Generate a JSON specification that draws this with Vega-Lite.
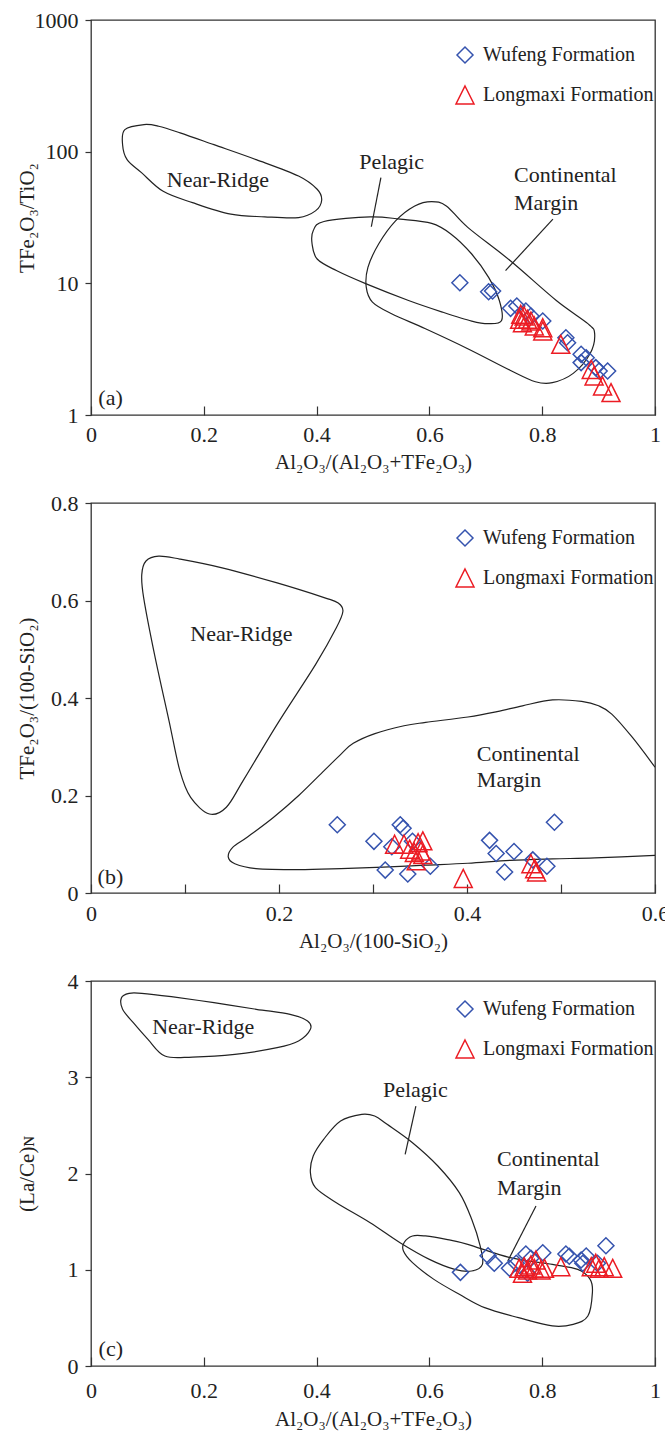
{
  "$schema": "https://vega.github.io/schema/vega-lite/v6.json",
  "background": "white",
  "padding": {"left": 15, "top": 8, "right": 5, "bottom": 5},
  "bounds": "flush",
  "spacing": 88,
  "datasets": {
    "pa": [
      {"x": 0.654, "y": 10.1, "group": "Wufeng Formation"},
      {"x": 0.705, "y": 8.64, "group": "Wufeng Formation"},
      {"x": 0.712, "y": 8.75, "group": "Wufeng Formation"},
      {"x": 0.744, "y": 6.46, "group": "Wufeng Formation"},
      {"x": 0.755, "y": 6.73, "group": "Wufeng Formation"},
      {"x": 0.771, "y": 6.17, "group": "Wufeng Formation"},
      {"x": 0.780, "y": 5.65, "group": "Wufeng Formation"},
      {"x": 0.801, "y": 5.17, "group": "Wufeng Formation"},
      {"x": 0.842, "y": 3.86, "group": "Wufeng Formation"},
      {"x": 0.845, "y": 3.54, "group": "Wufeng Formation"},
      {"x": 0.869, "y": 2.89, "group": "Wufeng Formation"},
      {"x": 0.878, "y": 2.72, "group": "Wufeng Formation"},
      {"x": 0.869, "y": 2.50, "group": "Wufeng Formation"},
      {"x": 0.895, "y": 2.29, "group": "Wufeng Formation"},
      {"x": 0.901, "y": 2.16, "group": "Wufeng Formation"},
      {"x": 0.916, "y": 2.16, "group": "Wufeng Formation"},
      {"x": 0.762, "y": 5.82, "group": "Longmaxi Formation"},
      {"x": 0.768, "y": 5.65, "group": "Longmaxi Formation"},
      {"x": 0.760, "y": 5.33, "group": "Longmaxi Formation"},
      {"x": 0.774, "y": 5.33, "group": "Longmaxi Formation"},
      {"x": 0.780, "y": 5.17, "group": "Longmaxi Formation"},
      {"x": 0.765, "y": 5.02, "group": "Longmaxi Formation"},
      {"x": 0.786, "y": 4.74, "group": "Longmaxi Formation"},
      {"x": 0.801, "y": 4.60, "group": "Longmaxi Formation"},
      {"x": 0.801, "y": 4.35, "group": "Longmaxi Formation"},
      {"x": 0.833, "y": 3.44, "group": "Longmaxi Formation"},
      {"x": 0.887, "y": 2.22, "group": "Longmaxi Formation"},
      {"x": 0.892, "y": 1.98, "group": "Longmaxi Formation"},
      {"x": 0.907, "y": 1.66, "group": "Longmaxi Formation"},
      {"x": 0.922, "y": 1.48, "group": "Longmaxi Formation"}
    ],
    "ra": [
      {"region": "NR", "o": 1, "x": 0.094, "y": 160.7},
      {"region": "NR", "o": 2, "x": 0.060, "y": 147},
      {"region": "NR", "o": 3, "x": 0.056, "y": 113},
      {"region": "NR", "o": 4, "x": 0.064, "y": 87},
      {"region": "NR", "o": 5, "x": 0.090, "y": 69},
      {"region": "NR", "o": 6, "x": 0.128, "y": 50},
      {"region": "NR", "o": 7, "x": 0.180, "y": 41},
      {"region": "NR", "o": 8, "x": 0.248, "y": 33.5},
      {"region": "NR", "o": 9, "x": 0.308, "y": 32},
      {"region": "NR", "o": 10, "x": 0.368, "y": 31.6},
      {"region": "NR", "o": 11, "x": 0.398, "y": 35.5},
      {"region": "NR", "o": 12, "x": 0.409, "y": 42.8},
      {"region": "NR", "o": 13, "x": 0.401, "y": 51.8},
      {"region": "NR", "o": 14, "x": 0.368, "y": 65.3},
      {"region": "NR", "o": 15, "x": 0.293, "y": 87},
      {"region": "NR", "o": 16, "x": 0.218, "y": 113},
      {"region": "NR", "o": 17, "x": 0.158, "y": 139},
      {"region": "NR", "o": 18, "x": 0.120, "y": 156},
      {"region": "PE", "o": 1, "x": 0.413, "y": 29.5},
      {"region": "PE", "o": 2, "x": 0.394, "y": 25.1},
      {"region": "PE", "o": 3, "x": 0.392, "y": 19.9},
      {"region": "PE", "o": 4, "x": 0.401, "y": 15.3},
      {"region": "PE", "o": 5, "x": 0.435, "y": 12.5},
      {"region": "PE", "o": 6, "x": 0.488, "y": 9.9},
      {"region": "PE", "o": 7, "x": 0.563, "y": 7.41},
      {"region": "PE", "o": 8, "x": 0.623, "y": 6.05},
      {"region": "PE", "o": 9, "x": 0.675, "y": 5.17},
      {"region": "PE", "o": 10, "x": 0.705, "y": 4.94},
      {"region": "PE", "o": 11, "x": 0.728, "y": 5.23},
      {"region": "PE", "o": 12, "x": 0.724, "y": 7.41},
      {"region": "PE", "o": 13, "x": 0.705, "y": 11.1},
      {"region": "PE", "o": 14, "x": 0.675, "y": 16.7},
      {"region": "PE", "o": 15, "x": 0.638, "y": 23.7},
      {"region": "PE", "o": 16, "x": 0.604, "y": 28.5},
      {"region": "PE", "o": 17, "x": 0.548, "y": 30.7},
      {"region": "PE", "o": 18, "x": 0.495, "y": 32.0},
      {"region": "CM", "o": 1, "x": 0.604, "y": 41.8},
      {"region": "CM", "o": 2, "x": 0.574, "y": 38.7},
      {"region": "CM", "o": 3, "x": 0.540, "y": 29.8},
      {"region": "CM", "o": 4, "x": 0.510, "y": 19.9},
      {"region": "CM", "o": 5, "x": 0.491, "y": 13.2},
      {"region": "CM", "o": 6, "x": 0.488, "y": 9.35},
      {"region": "CM", "o": 7, "x": 0.499, "y": 7.2},
      {"region": "CM", "o": 8, "x": 0.533, "y": 5.87},
      {"region": "CM", "o": 9, "x": 0.593, "y": 4.52},
      {"region": "CM", "o": 10, "x": 0.668, "y": 3.19},
      {"region": "CM", "o": 11, "x": 0.743, "y": 2.19},
      {"region": "CM", "o": 12, "x": 0.788, "y": 1.79},
      {"region": "CM", "o": 13, "x": 0.818, "y": 1.76},
      {"region": "CM", "o": 14, "x": 0.855, "y": 2.07},
      {"region": "CM", "o": 15, "x": 0.885, "y": 2.93},
      {"region": "CM", "o": 16, "x": 0.893, "y": 4.15},
      {"region": "CM", "o": 17, "x": 0.881, "y": 4.94},
      {"region": "CM", "o": 18, "x": 0.825, "y": 7.41},
      {"region": "CM", "o": 19, "x": 0.743, "y": 14.9},
      {"region": "CM", "o": 20, "x": 0.668, "y": 26.6},
      {"region": "CM", "o": 21, "x": 0.630, "y": 38.7}
    ],
    "pta": [
      {"id": "P", "x": 0.514, "y": 63.5},
      {"id": "P", "x": 0.497, "y": 26.9},
      {"id": "C", "x": 0.819, "y": 30.7},
      {"id": "C", "x": 0.735, "y": 12.5}
    ],
    "la": [
      {"x": 0.225, "y": 60.6, "t": "Near-Ridge", "a": "c"},
      {"x": 0.533, "y": 83.4, "t": "Pelagic", "a": "c"},
      {"x": 0.750, "y": 66.5, "t": "Continental", "a": "l"},
      {"x": 0.750, "y": 41.1, "t": "Margin", "a": "l"},
      {"x": 0.013, "y": 1.34, "t": "(a)", "a": "l"}
    ],
    "pb": [
      {"x": 0.262, "y": 0.140, "group": "Wufeng Formation"},
      {"x": 0.301, "y": 0.106, "group": "Wufeng Formation"},
      {"x": 0.329, "y": 0.140, "group": "Wufeng Formation"},
      {"x": 0.332, "y": 0.133, "group": "Wufeng Formation"},
      {"x": 0.320, "y": 0.095, "group": "Wufeng Formation"},
      {"x": 0.342, "y": 0.106, "group": "Wufeng Formation"},
      {"x": 0.313, "y": 0.047, "group": "Wufeng Formation"},
      {"x": 0.337, "y": 0.039, "group": "Wufeng Formation"},
      {"x": 0.361, "y": 0.055, "group": "Wufeng Formation"},
      {"x": 0.424, "y": 0.108, "group": "Wufeng Formation"},
      {"x": 0.431, "y": 0.081, "group": "Wufeng Formation"},
      {"x": 0.450, "y": 0.085, "group": "Wufeng Formation"},
      {"x": 0.440, "y": 0.043, "group": "Wufeng Formation"},
      {"x": 0.470, "y": 0.068, "group": "Wufeng Formation"},
      {"x": 0.485, "y": 0.055, "group": "Wufeng Formation"},
      {"x": 0.493, "y": 0.145, "group": "Wufeng Formation"},
      {"x": 0.323, "y": 0.100, "group": "Longmaxi Formation"},
      {"x": 0.333, "y": 0.100, "group": "Longmaxi Formation"},
      {"x": 0.339, "y": 0.090, "group": "Longmaxi Formation"},
      {"x": 0.348, "y": 0.103, "group": "Longmaxi Formation"},
      {"x": 0.353, "y": 0.107, "group": "Longmaxi Formation"},
      {"x": 0.344, "y": 0.083, "group": "Longmaxi Formation"},
      {"x": 0.351, "y": 0.086, "group": "Longmaxi Formation"},
      {"x": 0.346, "y": 0.066, "group": "Longmaxi Formation"},
      {"x": 0.353, "y": 0.079, "group": "Longmaxi Formation"},
      {"x": 0.396, "y": 0.030, "group": "Longmaxi Formation"},
      {"x": 0.468, "y": 0.060, "group": "Longmaxi Formation"},
      {"x": 0.472, "y": 0.050, "group": "Longmaxi Formation"},
      {"x": 0.474, "y": 0.043, "group": "Longmaxi Formation"}
    ],
    "rb": [
      {"region": "NR", "o": 1, "x": 0.072, "y": 0.691},
      {"region": "NR", "o": 2, "x": 0.0585, "y": 0.681},
      {"region": "NR", "o": 3, "x": 0.054, "y": 0.653},
      {"region": "NR", "o": 4, "x": 0.056, "y": 0.606},
      {"region": "NR", "o": 5, "x": 0.0675, "y": 0.490},
      {"region": "NR", "o": 6, "x": 0.083, "y": 0.353},
      {"region": "NR", "o": 7, "x": 0.0945, "y": 0.251},
      {"region": "NR", "o": 8, "x": 0.106, "y": 0.196},
      {"region": "NR", "o": 9, "x": 0.126, "y": 0.162},
      {"region": "NR", "o": 10, "x": 0.144, "y": 0.176},
      {"region": "NR", "o": 11, "x": 0.162, "y": 0.231},
      {"region": "NR", "o": 12, "x": 0.198, "y": 0.346},
      {"region": "NR", "o": 13, "x": 0.239, "y": 0.469},
      {"region": "NR", "o": 14, "x": 0.261, "y": 0.544},
      {"region": "NR", "o": 15, "x": 0.268, "y": 0.578},
      {"region": "NR", "o": 16, "x": 0.263, "y": 0.595},
      {"region": "NR", "o": 17, "x": 0.248, "y": 0.606},
      {"region": "NR", "o": 18, "x": 0.198, "y": 0.636},
      {"region": "NR", "o": 19, "x": 0.1395, "y": 0.667},
      {"region": "NR", "o": 20, "x": 0.0945, "y": 0.685}
    ],
    "cb": [
      {"o": 1, "x": 0.600, "y": 0.258},
      {"o": 2, "x": 0.576, "y": 0.319},
      {"o": 3, "x": 0.554, "y": 0.367},
      {"o": 4, "x": 0.540, "y": 0.384},
      {"o": 5, "x": 0.522, "y": 0.393},
      {"o": 6, "x": 0.491, "y": 0.396},
      {"o": 7, "x": 0.459, "y": 0.384},
      {"o": 8, "x": 0.432, "y": 0.372},
      {"o": 9, "x": 0.401, "y": 0.361},
      {"o": 10, "x": 0.356, "y": 0.350},
      {"o": 11, "x": 0.333, "y": 0.343},
      {"o": 12, "x": 0.302, "y": 0.327},
      {"o": 13, "x": 0.279, "y": 0.307},
      {"o": 14, "x": 0.266, "y": 0.285},
      {"o": 15, "x": 0.248, "y": 0.251},
      {"o": 16, "x": 0.221, "y": 0.200},
      {"o": 17, "x": 0.194, "y": 0.155},
      {"o": 18, "x": 0.1665, "y": 0.115},
      {"o": 19, "x": 0.151, "y": 0.094},
      {"o": 20, "x": 0.146, "y": 0.074},
      {"o": 21, "x": 0.153, "y": 0.060},
      {"o": 22, "x": 0.1755, "y": 0.050},
      {"o": 23, "x": 0.221, "y": 0.048},
      {"o": 24, "x": 0.266, "y": 0.050},
      {"o": 25, "x": 0.311, "y": 0.053},
      {"o": 26, "x": 0.356, "y": 0.057},
      {"o": 27, "x": 0.401, "y": 0.061},
      {"o": 28, "x": 0.446, "y": 0.067},
      {"o": 29, "x": 0.491, "y": 0.070},
      {"o": 30, "x": 0.536, "y": 0.072},
      {"o": 31, "x": 0.600, "y": 0.077}
    ],
    "lb": [
      {"x": 0.160, "y": 0.532, "t": "Near-Ridge", "a": "c"},
      {"x": 0.4105, "y": 0.286, "t": "Continental", "a": "l"},
      {"x": 0.4105, "y": 0.231, "t": "Margin", "a": "l"},
      {"x": 0.007, "y": 0.033, "t": "(b)", "a": "l"}
    ],
    "pc": [
      {"x": 0.655, "y": 0.973, "group": "Wufeng Formation"},
      {"x": 0.704, "y": 1.146, "group": "Wufeng Formation"},
      {"x": 0.715, "y": 1.067, "group": "Wufeng Formation"},
      {"x": 0.742, "y": 1.015, "group": "Wufeng Formation"},
      {"x": 0.754, "y": 1.067, "group": "Wufeng Formation"},
      {"x": 0.771, "y": 1.164, "group": "Wufeng Formation"},
      {"x": 0.780, "y": 1.12, "group": "Wufeng Formation"},
      {"x": 0.801, "y": 1.177, "group": "Wufeng Formation"},
      {"x": 0.842, "y": 1.164, "group": "Wufeng Formation"},
      {"x": 0.848, "y": 1.14, "group": "Wufeng Formation"},
      {"x": 0.869, "y": 1.101, "group": "Wufeng Formation"},
      {"x": 0.878, "y": 1.143, "group": "Wufeng Formation"},
      {"x": 0.872, "y": 1.067, "group": "Wufeng Formation"},
      {"x": 0.913, "y": 1.250, "group": "Wufeng Formation"},
      {"x": 0.898, "y": 1.067, "group": "Wufeng Formation"},
      {"x": 0.774, "y": 0.963, "group": "Wufeng Formation"},
      {"x": 0.759, "y": 1.015, "group": "Longmaxi Formation"},
      {"x": 0.768, "y": 1.032, "group": "Longmaxi Formation"},
      {"x": 0.774, "y": 0.998, "group": "Longmaxi Formation"},
      {"x": 0.780, "y": 1.049, "group": "Longmaxi Formation"},
      {"x": 0.765, "y": 0.963, "group": "Longmaxi Formation"},
      {"x": 0.786, "y": 1.015, "group": "Longmaxi Formation"},
      {"x": 0.789, "y": 1.101, "group": "Longmaxi Formation"},
      {"x": 0.798, "y": 0.998, "group": "Longmaxi Formation"},
      {"x": 0.804, "y": 1.015, "group": "Longmaxi Formation"},
      {"x": 0.833, "y": 1.032, "group": "Longmaxi Formation"},
      {"x": 0.887, "y": 1.032, "group": "Longmaxi Formation"},
      {"x": 0.895, "y": 1.067, "group": "Longmaxi Formation"},
      {"x": 0.901, "y": 1.015, "group": "Longmaxi Formation"},
      {"x": 0.910, "y": 1.032, "group": "Longmaxi Formation"},
      {"x": 0.925, "y": 1.015, "group": "Longmaxi Formation"}
    ],
    "rc": [
      {"region": "NR", "o": 1, "x": 0.0675, "y": 3.872},
      {"region": "NR", "o": 2, "x": 0.054, "y": 3.827},
      {"region": "NR", "o": 3, "x": 0.056, "y": 3.706},
      {"region": "NR", "o": 4, "x": 0.075, "y": 3.567},
      {"region": "NR", "o": 5, "x": 0.101, "y": 3.394},
      {"region": "NR", "o": 6, "x": 0.131, "y": 3.221},
      {"region": "NR", "o": 7, "x": 0.180, "y": 3.210},
      {"region": "NR", "o": 8, "x": 0.255, "y": 3.238},
      {"region": "NR", "o": 9, "x": 0.330, "y": 3.307},
      {"region": "NR", "o": 10, "x": 0.368, "y": 3.377},
      {"region": "NR", "o": 11, "x": 0.389, "y": 3.498},
      {"region": "NR", "o": 12, "x": 0.384, "y": 3.584},
      {"region": "NR", "o": 13, "x": 0.353, "y": 3.654},
      {"region": "NR", "o": 14, "x": 0.293, "y": 3.706},
      {"region": "NR", "o": 15, "x": 0.218, "y": 3.775},
      {"region": "NR", "o": 16, "x": 0.1425, "y": 3.837},
      {"region": "NR", "o": 17, "x": 0.090, "y": 3.872},
      {"region": "PE", "o": 1, "x": 0.480, "y": 2.615},
      {"region": "PE", "o": 2, "x": 0.4425, "y": 2.545},
      {"region": "PE", "o": 3, "x": 0.4125, "y": 2.355},
      {"region": "PE", "o": 4, "x": 0.394, "y": 2.182},
      {"region": "PE", "o": 5, "x": 0.389, "y": 2.009},
      {"region": "PE", "o": 6, "x": 0.398, "y": 1.853},
      {"region": "PE", "o": 7, "x": 0.435, "y": 1.697},
      {"region": "PE", "o": 8, "x": 0.495, "y": 1.489},
      {"region": "PE", "o": 9, "x": 0.548, "y": 1.281},
      {"region": "PE", "o": 10, "x": 0.600, "y": 1.108},
      {"region": "PE", "o": 11, "x": 0.645, "y": 1.004},
      {"region": "PE", "o": 12, "x": 0.675, "y": 0.987},
      {"region": "PE", "o": 13, "x": 0.694, "y": 1.056},
      {"region": "PE", "o": 14, "x": 0.690, "y": 1.247},
      {"region": "PE", "o": 15, "x": 0.675, "y": 1.524},
      {"region": "PE", "o": 16, "x": 0.653, "y": 1.801},
      {"region": "PE", "o": 17, "x": 0.615, "y": 2.078},
      {"region": "PE", "o": 18, "x": 0.570, "y": 2.320},
      {"region": "PE", "o": 19, "x": 0.525, "y": 2.511},
      {"region": "PE", "o": 20, "x": 0.503, "y": 2.597},
      {"region": "CM", "o": 1, "x": 0.570, "y": 1.351},
      {"region": "CM", "o": 2, "x": 0.555, "y": 1.281},
      {"region": "CM", "o": 3, "x": 0.554, "y": 1.195},
      {"region": "CM", "o": 4, "x": 0.570, "y": 1.074},
      {"region": "CM", "o": 5, "x": 0.608, "y": 0.900},
      {"region": "CM", "o": 6, "x": 0.653, "y": 0.745},
      {"region": "CM", "o": 7, "x": 0.698, "y": 0.606},
      {"region": "CM", "o": 8, "x": 0.758, "y": 0.502},
      {"region": "CM", "o": 9, "x": 0.818, "y": 0.416},
      {"region": "CM", "o": 10, "x": 0.855, "y": 0.433},
      {"region": "CM", "o": 11, "x": 0.881, "y": 0.519},
      {"region": "CM", "o": 12, "x": 0.889, "y": 0.762},
      {"region": "CM", "o": 13, "x": 0.885, "y": 0.900},
      {"region": "CM", "o": 14, "x": 0.863, "y": 1.004},
      {"region": "CM", "o": 15, "x": 0.818, "y": 1.056},
      {"region": "CM", "o": 16, "x": 0.743, "y": 1.126},
      {"region": "CM", "o": 17, "x": 0.668, "y": 1.264},
      {"region": "CM", "o": 18, "x": 0.630, "y": 1.316},
      {"region": "CM", "o": 19, "x": 0.593, "y": 1.351}
    ],
    "ptc": [
      {"id": "P", "x": 0.576, "y": 2.701},
      {"id": "P", "x": 0.557, "y": 2.199},
      {"id": "C", "x": 0.789, "y": 1.662},
      {"id": "C", "x": 0.739, "y": 1.091}
    ],
    "lc": [
      {"x": 0.199, "y": 3.526, "t": "Near-Ridge", "a": "c"},
      {"x": 0.575, "y": 2.864, "t": "Pelagic", "a": "c"},
      {"x": 0.720, "y": 2.147, "t": "Continental", "a": "l"},
      {"x": 0.720, "y": 1.853, "t": "Margin", "a": "l"},
      {"x": 0.0135, "y": 0.18, "t": "(c)", "a": "l"}
    ]
  },
  "vconcat": [
    {
      "width": 564,
      "height": 395,
      "encoding": {
        "x": {"field": "x", "type": "quantitative", "scale": {"domain": [0, 1], "nice": false, "zero": false},
          "axis": {"title": "Al₂O₃/(Al₂O₃+TFe₂O₃)", "values": [0, 0.2, 0.4, 0.6, 0.8, 1], "format": "~g", "labelPadding": 28, "titleY": 47}},
        "y": {"field": "y", "type": "quantitative", "scale": {"type": "log", "domain": [1, 1000], "nice": false},
          "axis": {"title": "TFe₂O₃/TiO₂", "values": [1, 10, 100, 1000], "format": "d"}}
      },
      "layer": [
        {"data": {"name": "ra"}, "mark": {"type": "line", "interpolate": "cardinal-closed", "color": "#222", "strokeWidth": 1.2},
          "encoding": {"detail": {"field": "region"}, "order": {"field": "o", "type": "quantitative"}}},
        {"data": {"name": "pta"}, "mark": {"type": "line", "color": "#222", "strokeWidth": 1.2},
          "encoding": {"detail": {"field": "id"}}},
        {"data": {"name": "la"}, "transform": [{"filter": "datum.a == 'c'"}],
          "mark": {"type": "text", "align": "center", "baseline": "middle", "fontSize": 22, "color": "#222"},
          "encoding": {"text": {"field": "t"}}},
        {"data": {"name": "la"}, "transform": [{"filter": "datum.a == 'l'"}],
          "mark": {"type": "text", "align": "left", "baseline": "middle", "fontSize": 22, "color": "#222"},
          "encoding": {"text": {"field": "t"}}},
        {"data": {"name": "pa"}, "mark": {"type": "point", "filled": false, "strokeWidth": 1.5, "opacity": 1},
          "encoding": {
            "color": {"field": "group", "type": "nominal", "scale": {"domain": ["Wufeng Formation", "Longmaxi Formation"], "range": ["#3553AE", "#EC1C24"]},
              "legend": {"orient": "none", "legendX": 364, "legendY": 25, "title": null}},
            "shape": {"field": "group", "type": "nominal", "scale": {"domain": ["Wufeng Formation", "Longmaxi Formation"], "range": ["diamond", "M0,-1L1,1L-1,1Z"]},
              "legend": {"orient": "none", "legendX": 364, "legendY": 25, "title": null}},
            "size": {"field": "group", "type": "nominal", "scale": {"domain": ["Wufeng Formation", "Longmaxi Formation"], "range": [256, 324]}, "legend": null}
          }}
      ]
    },
    {
      "width": 564,
      "height": 390,
      "encoding": {
        "x": {"field": "x", "type": "quantitative", "scale": {"domain": [0, 0.6], "nice": false, "zero": false},
          "axis": {"title": "Al₂O₃/(100-SiO₂)", "values": [0, 0.1, 0.2, 0.3, 0.4, 0.5, 0.6], "labelExpr": "round(datum.value*10) % 2 == 0 ? format(datum.value, '~g') : ''", "labelPadding": 29, "titleY": 48}},
        "y": {"field": "y", "type": "quantitative", "scale": {"domain": [0, 0.8], "nice": false},
          "axis": {"title": "TFe₂O₃/(100-SiO₂)", "values": [0, 0.2, 0.4, 0.6, 0.8], "format": "~g"}}
      },
      "layer": [
        {"data": {"name": "rb"}, "mark": {"type": "line", "interpolate": "cardinal-closed", "color": "#222", "strokeWidth": 1.2},
          "encoding": {"detail": {"field": "region"}, "order": {"field": "o", "type": "quantitative"}}},
        {"data": {"name": "cb"}, "mark": {"type": "line", "interpolate": "cardinal", "color": "#222", "strokeWidth": 1.2, "clip": true},
          "encoding": {"order": {"field": "o", "type": "quantitative"}}},
        {"data": {"name": "lb"}, "transform": [{"filter": "datum.a == 'c'"}],
          "mark": {"type": "text", "align": "center", "baseline": "middle", "fontSize": 22, "color": "#222"},
          "encoding": {"text": {"field": "t"}}},
        {"data": {"name": "lb"}, "transform": [{"filter": "datum.a == 'l'"}],
          "mark": {"type": "text", "align": "left", "baseline": "middle", "fontSize": 22, "color": "#222"},
          "encoding": {"text": {"field": "t"}}},
        {"data": {"name": "pb"}, "mark": {"type": "point", "filled": false, "strokeWidth": 1.5, "opacity": 1},
          "encoding": {
            "color": {"field": "group", "type": "nominal", "scale": {"domain": ["Wufeng Formation", "Longmaxi Formation"], "range": ["#3553AE", "#EC1C24"]},
              "legend": {"orient": "none", "legendX": 364, "legendY": 25, "title": null}},
            "shape": {"field": "group", "type": "nominal", "scale": {"domain": ["Wufeng Formation", "Longmaxi Formation"], "range": ["diamond", "M0,-1L1,1L-1,1Z"]},
              "legend": {"orient": "none", "legendX": 364, "legendY": 25, "title": null}},
            "size": {"field": "group", "type": "nominal", "scale": {"domain": ["Wufeng Formation", "Longmaxi Formation"], "range": [256, 324]}, "legend": null}
          }}
      ]
    },
    {
      "width": 564,
      "height": 385,
      "encoding": {
        "x": {"field": "x", "type": "quantitative", "scale": {"domain": [0, 1], "nice": false, "zero": false},
          "axis": {"title": "Al₂O₃/(Al₂O₃+TFe₂O₃)", "values": [0, 0.2, 0.4, 0.6, 0.8, 1], "format": "~g", "labelPadding": 33, "titleY": 53}},
        "y": {"field": "y", "type": "quantitative", "scale": {"domain": [0, 4], "nice": false},
          "axis": {"title": "(La/Ce)ɴ", "values": [0, 1, 2, 3, 4], "format": "d"}}
      },
      "layer": [
        {"data": {"name": "rc"}, "mark": {"type": "line", "interpolate": "cardinal-closed", "color": "#222", "strokeWidth": 1.2},
          "encoding": {"detail": {"field": "region"}, "order": {"field": "o", "type": "quantitative"}}},
        {"data": {"name": "ptc"}, "mark": {"type": "line", "color": "#222", "strokeWidth": 1.2},
          "encoding": {"detail": {"field": "id"}}},
        {"data": {"name": "lc"}, "transform": [{"filter": "datum.a == 'c'"}],
          "mark": {"type": "text", "align": "center", "baseline": "middle", "fontSize": 22, "color": "#222"},
          "encoding": {"text": {"field": "t"}}},
        {"data": {"name": "lc"}, "transform": [{"filter": "datum.a == 'l'"}],
          "mark": {"type": "text", "align": "left", "baseline": "middle", "fontSize": 22, "color": "#222"},
          "encoding": {"text": {"field": "t"}}},
        {"data": {"name": "pc"}, "mark": {"type": "point", "filled": false, "strokeWidth": 1.5, "opacity": 1},
          "encoding": {
            "color": {"field": "group", "type": "nominal", "scale": {"domain": ["Wufeng Formation", "Longmaxi Formation"], "range": ["#3553AE", "#EC1C24"]},
              "legend": {"orient": "none", "legendX": 364, "legendY": 18, "title": null}},
            "shape": {"field": "group", "type": "nominal", "scale": {"domain": ["Wufeng Formation", "Longmaxi Formation"], "range": ["diamond", "M0,-1L1,1L-1,1Z"]},
              "legend": {"orient": "none", "legendX": 364, "legendY": 18, "title": null}},
            "size": {"field": "group", "type": "nominal", "scale": {"domain": ["Wufeng Formation", "Longmaxi Formation"], "range": [256, 324]}, "legend": null}
          }}
      ]
    }
  ],
  "resolve": {
    "scale": {"x": "independent", "y": "independent", "color": "independent", "shape": "independent", "size": "independent"},
    "legend": {"color": "independent", "shape": "independent"}
  },
  "config": {
    "font": "Liberation Serif, Times New Roman, DejaVu Serif, serif",
    "view": {"stroke": "#333", "strokeWidth": 1.3},
    "axis": {
      "domain": false, "grid": false,
      "labelFont": "Liberation Serif, Times New Roman, DejaVu Serif, serif", "labelFontSize": 22, "labelColor": "#222",
      "titleFont": "Liberation Serif, Times New Roman, DejaVu Serif, serif", "titleFontSize": 21, "titleFontWeight": "normal", "titleColor": "#222",
      "tickColor": "#333", "tickWidth": 1.2, "labelFlush": false, "labelOverlap": false
    },
    "axisX": {"tickSize": -9, "labelBaseline": "middle", "titleBaseline": "middle"},
    "axisY": {"tickSize": 6, "labelPadding": 7, "titleX": -64, "titleBaseline": "middle"},
    "legend": {
      "labelFont": "Liberation Serif, Times New Roman, DejaVu Serif, serif", "labelFontSize": 20, "labelColor": "#222", "labelLimit": 400,
      "symbolSize": 225, "symbolStrokeWidth": 1.5, "rowPadding": 17, "labelOffset": 8, "padding": 0
    },
    "text": {"font": "Liberation Serif, Times New Roman, DejaVu Serif, serif"}
  }
}
